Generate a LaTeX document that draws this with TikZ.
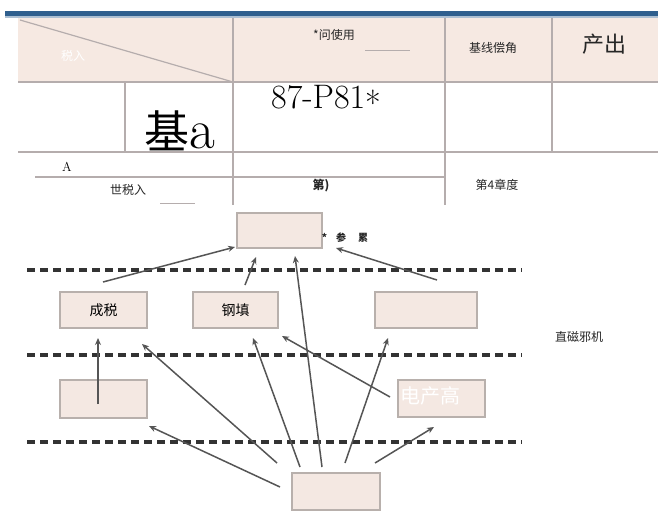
\documentclass[tikz,border=0pt]{standalone}
\usepackage{fontspec}
\newfontfamily\cjk{Noto Sans CJK SC}
\usetikzlibrary{arrows.meta}
\definecolor{hdrfill}{HTML}{F6E9E2}
\definecolor{boxfill}{HTML}{F4E8E2}
\definecolor{boxline}{HTML}{B8B0AC}
\definecolor{tabline}{HTML}{B5ADAD}
\definecolor{band}{HTML}{2F5F8E}
\definecolor{arrowc}{HTML}{555555}
\definecolor{dashc}{HTML}{333333}
\tikzset{
  blk/.style={draw=boxline, line width=1.5pt, fill=boxfill, minimum width=#1, minimum height=36pt, inner sep=0pt},
  blk/.default=86pt,
  conn/.style={draw=arrowc, line width=1.5pt, -{Stealth[length=7pt,width=6pt]}},
  layer/.style={draw=dashc, line width=3.5pt, dash pattern=on 8pt off 5pt},
  tline/.style={draw=tabline, line width=1.2pt},
  txt/.style={font=\cjk\fontsize{12}{12}\selectfont, text=black!85, inner sep=0pt}
}
\begin{document}
\begin{tikzpicture}[x=1pt,y=-1pt]
\useasboundingbox (0,0) rectangle (658,524);
\fill[white] (0,0) rectangle (658,524);
% blue band
\fill[band] (5,11) rectangle (658,16);
\fill[band!40] (5,16) rectangle (658,18);
% table
\fill[hdrfill] (18,18) rectangle (658,82);
\draw[tline] (18,82) -- (658,82);
\draw[tline] (18,152) -- (658,152);
\draw[tline] (35,177) -- (445,177);
\draw[tline] (233,18) -- (233,205);
\draw[tline] (445,18) -- (445,205);
\draw[tline] (552,18) -- (552,152);
\draw[tline] (125,82) -- (125,152);
\draw[tline] (20,20) -- (233,82);
\draw[tline, line width=0.8pt] (365,50) -- (410,50);
\draw[tline, line width=0.8pt] (160,203) -- (195,203);
% table texts
\node[txt, text=white] (ta) at (73,56) {税入};
\node[txt] (tb) at (334,35) {*问使用};
\node[txt] (tc) at (493,48) {基线偿角};
\node[txt, font=\cjk\fontsize{22}{22}\selectfont] (td) at (604,44) {产出};
\node[inner sep=0pt, font=\fontsize{34}{34}\selectfont, anchor=base] (te) at (326,109) {87-P81\raisebox{-7pt}{*}};
\node[inner sep=0pt, font=\cjk\fontsize{45}{45}\selectfont, anchor=base] (tf) at (180,148) {基{\rmfamily\fontsize{56}{56}\selectfont a}};
\node[inner sep=0pt, font=\fontsize{13}{13}\selectfont] (tg) at (67,167) {A};
\node[txt] (th) at (128,190) {世税入};
\node[txt, font=\cjk\bfseries\fontsize{12}{12}\selectfont] (ti) at (321,186) {第)};
\node[txt] (tj) at (497,185) {第4章度};
% layer lines
\draw[layer] (27,270) -- (522,270);
\draw[layer] (27,355) -- (522,355);
\draw[layer] (27,442) -- (522,442);
% boxes
\node[blk=85pt, minimum height=35pt] (top) at (279.5,230.5) {};
\node[blk=87pt] (cs) at (103.5,310) {\cjk\fontsize{14}{14}\selectfont 成税};
\node[blk=85pt] (gt) at (235.5,310) {\cjk\fontsize{14}{14}\selectfont 钢填};
\node[blk=102pt] (rb) at (426,310) {};
\node[blk=87pt, minimum height=38pt] (lb) at (103.5,399) {};
\node[blk=87pt, minimum height=37pt] (dc) at (441.5,398.5) {};
\node[blk=88pt, minimum height=37pt] (bt) at (336,491.5) {};
\node[txt, font=\cjk\bfseries\fontsize{10}{10}\selectfont] (cm) at (345,238) {*\hspace{9pt}参\hspace{12pt}累};
\node[txt] (side) at (579,337) {直磁邪机};
% connector points
\coordinate (a1s) at (103,282); \coordinate (a1e) at (235,247);
\coordinate (a2s) at (245,285); \coordinate (a2e) at (256,257);
\coordinate (a3s) at (322,467); \coordinate (a3e) at (295,256);
\coordinate (a4s) at (437,280); \coordinate (a4e) at (336,248);
\coordinate (a5s) at (98,404);  \coordinate (a5e) at (98,338);
\coordinate (a6s) at (277,463); \coordinate (a6e) at (142,344);
\coordinate (a7s) at (300,467); \coordinate (a7e) at (253,338);
\coordinate (a8s) at (390,397); \coordinate (a8e) at (282,336);
\coordinate (a9s) at (345,463); \coordinate (a9e) at (388,338);
\coordinate (a10s) at (375,463); \coordinate (a10e) at (434,427);
\coordinate (a11s) at (280,487); \coordinate (a11e) at (149,426);
\draw[conn] (a1s) -- (a1e);
\draw[conn] (a2s) -- (a2e);
\draw[conn] (a3s) -- (a3e);
\draw[conn] (a4s) -- (a4e);
\draw[conn] (a5s) -- (a5e);
\draw[conn] (a6s) -- (a6e);
\draw[conn] (a7s) -- (a7e);
\draw[conn] (a8s) -- (a8e);
\draw[conn] (a9s) -- (a9e);
\draw[conn] (a10s) -- (a10e);
\draw[conn] (a11s) -- (a11e);
\node[txt, text=white, font=\cjk\fontsize{20}{20}\selectfont] (dct) at (430,396) {电产高};
\end{tikzpicture}
\end{document}
